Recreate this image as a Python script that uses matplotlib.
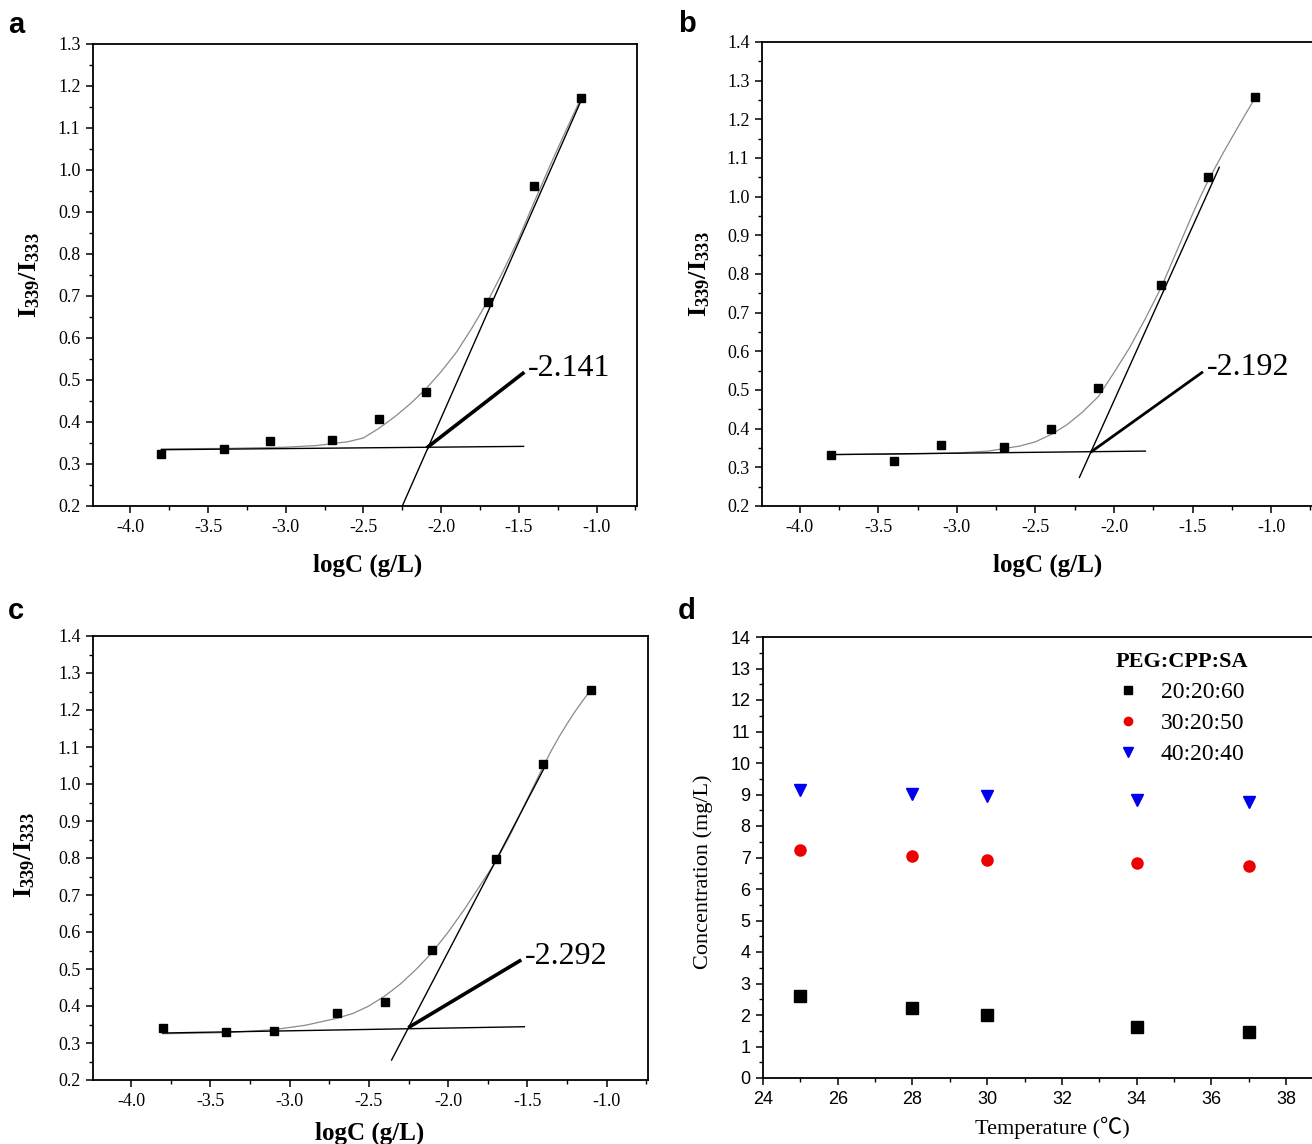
import matplotlib
matplotlib.use('Agg')
import matplotlib.pyplot as plt
from matplotlib.ticker import MultipleLocator, FormatStrFormatter

plt.rcParams['font.family'] = ['Liberation Serif', 'DejaVu Serif']
plt.rcParams['axes.unicode_minus'] = False
plt.rcParams['mathtext.fontset'] = 'custom'
plt.rcParams['mathtext.rm'] = 'Liberation Serif'
plt.rcParams['mathtext.bf'] = 'Liberation Serif:bold'
plt.rcParams['axes.linewidth'] = 1.3

# ---- data ----
log_c = [-3.8, -3.4, -3.1, -2.7, -2.4, -2.1, -1.7, -1.4, -1.1]
ratio_a = [0.324, 0.335, 0.355, 0.358, 0.406, 0.471, 0.685, 0.961, 1.171]
ratio_b = [0.332, 0.317, 0.357, 0.352, 0.398, 0.504, 0.771, 1.050, 1.259]
ratio_c = [0.341, 0.329, 0.332, 0.382, 0.411, 0.551, 0.797, 1.053, 1.255]

# fitted curves (sampled along the drawn fit)
curve_x_a = [-3.8, -3.4, -3.0, -2.8, -2.6, -2.5, -2.4, -2.3, -2.2, -2.1, -2.0,
             -1.9, -1.8, -1.7, -1.6, -1.5, -1.4, -1.3, -1.2, -1.1]
curve_y_a = [0.336, 0.337, 0.340, 0.344, 0.353, 0.362, 0.385, 0.412, 0.443, 0.478,
             0.520, 0.567, 0.625, 0.688, 0.760, 0.838, 0.925, 1.010, 1.092, 1.171]
curve_x_b = [-3.8, -3.4, -3.0, -2.8, -2.6, -2.5, -2.4, -2.3, -2.2, -2.1, -2.0,
             -1.9, -1.8, -1.7, -1.6, -1.5, -1.45, -1.4, -1.35, -1.3, -1.2, -1.1]
curve_y_b = [0.333, 0.334, 0.337, 0.342, 0.355, 0.366, 0.385, 0.410, 0.443, 0.483,
             0.545, 0.610, 0.685, 0.765, 0.860, 0.955, 1.000, 1.042, 1.080, 1.117,
             1.188, 1.257]
curve_x_c = [-3.8, -3.4, -3.1, -2.9, -2.7, -2.6, -2.5, -2.4, -2.3, -2.2, -2.1,
             -2.0, -1.9, -1.8, -1.7, -1.6, -1.5, -1.4, -1.35, -1.3, -1.25, -1.2,
             -1.15, -1.1]
curve_y_c = [0.325, 0.328, 0.336, 0.348, 0.367, 0.380, 0.400, 0.427, 0.460, 0.500,
             0.545, 0.600, 0.660, 0.725, 0.790, 0.870, 0.960, 1.048, 1.090, 1.128,
             1.163, 1.196, 1.226, 1.255]

# baseline, steep tangent and CMC pointer (end points)
base_a = ([-3.8, -1.47], [0.334, 0.342])
steep_a = ([-2.25, -1.093], [0.2, 1.171])
mark_a = ([-2.084, -1.474], [0.341, 0.516])
base_b = ([-3.8, -1.80], [0.333, 0.342])
steep_b = ([-2.22, -1.33], [0.274, 1.076])
mark_b = ([-2.142, -1.441], [0.341, 0.545])
base_c = ([-3.8, -1.52], [0.327, 0.344])
steep_c = ([-2.357, -1.385], [0.254, 1.051])
mark_c = ([-2.242, -1.549], [0.344, 0.522])

cmc_labels = ['-2.141', '-2.192', '-2.292']

temps = [25, 28, 30, 34, 37]
conc_20 = [2.60, 2.21, 2.00, 1.62, 1.45]
conc_30 = [7.24, 7.06, 6.92, 6.82, 6.72]
conc_40 = [9.15, 9.03, 8.95, 8.82, 8.77]
ratio_names = ['20:20:60', '30:20:50', '40:20:40']

W, H = 1312, 1144
fig = plt.figure(figsize=(W / 100, H / 100), dpi=100)


def px_axes(left, top, right, bottom):
    return fig.add_axes([left / W, 1 - bottom / H, (right - left) / W, (bottom - top) / H])


def style_ticks(ax, size=13):
    ax.tick_params(which='both', direction='out', top=False, right=False,
                   labelsize=size)
    ax.tick_params(which='major', length=5, width=1.1, pad=4)
    ax.tick_params(which='minor', length=3, width=1.0)


def draw_cmc(ax, y, curve, base, steep, mark, label, ytop, mark_lw):
    ax.plot(curve[0], curve[1], color='#8a8a8a', lw=0.9, zorder=2)
    ax.plot(base[0], base[1], color='black', lw=1.0, zorder=3)
    ax.plot(steep[0], steep[1], color='black', lw=1.0, zorder=3)
    ax.plot(mark[0], mark[1], color='black', lw=mark_lw, zorder=3)
    ax.plot(log_c, y, ls='none', marker='s', ms=6, color='black', zorder=4)
    ax.text(mark[0][1] + 0.03, mark[1][1] + 0.012, label, fontsize=23,
            ha='left', va='center')
    ax.set_xlim(-4.24, -0.74)
    ax.set_ylim(0.2, ytop)
    ax.xaxis.set_major_locator(MultipleLocator(0.5))
    ax.xaxis.set_minor_locator(MultipleLocator(0.25))
    ax.yaxis.set_major_locator(MultipleLocator(0.1))
    ax.yaxis.set_minor_locator(MultipleLocator(0.05))
    ax.xaxis.set_major_formatter(FormatStrFormatter('%.1f'))
    ax.yaxis.set_major_formatter(FormatStrFormatter('%.1f'))
    style_ticks(ax)
    ax.set_xlabel('logC (g/L)', fontsize=18, fontweight='bold', va='center')
    ax.set_ylabel(r'$\mathbf{I_{339}/I_{333}}$', fontsize=19, va='center')


ax_a = px_axes(93, 44, 637, 506)
draw_cmc(ax_a, ratio_a, (curve_x_a, curve_y_a), base_a, steep_a, mark_a,
         cmc_labels[0], 1.3, 2.6)
ax_a.xaxis.set_label_coords(0.504, -0.128)
ax_a.yaxis.set_label_coords(-0.116, 0.5)

ax_b = px_axes(762, 42, 1312, 506)
draw_cmc(ax_b, ratio_b, (curve_x_b, curve_y_b), base_b, steep_b, mark_b,
         cmc_labels[1], 1.4, 2.0)
ax_b.spines['right'].set_visible(False)
ax_b.xaxis.set_label_coords(0.52, -0.127)
ax_b.yaxis.set_label_coords(-0.113, 0.5)

ax_c = px_axes(93, 636, 648, 1080)
draw_cmc(ax_c, ratio_c, (curve_x_c, curve_y_c), base_c, steep_c, mark_c,
         cmc_labels[2], 1.4, 2.6)
ax_c.xaxis.set_label_coords(0.499, -0.119)
ax_c.yaxis.set_label_coords(-0.1225, 0.507)

# ---- panel d ----
ax_d = px_axes(763, 637, 1312, 1078)
ax_d.plot(temps, conc_20, ls='none', marker='s', ms=8, color='black', label=ratio_names[0])
ax_d.plot(temps, conc_30, ls='none', marker='o', ms=8, color='#ee0000', label=ratio_names[1])
ax_d.plot(temps, conc_40, ls='none', marker='v', ms=9, color='#0000ee', label=ratio_names[2])
ax_d.set_xlim(24, 38.69)
ax_d.set_ylim(0, 14)
ax_d.xaxis.set_major_locator(MultipleLocator(2))
ax_d.xaxis.set_minor_locator(MultipleLocator(1))
ax_d.yaxis.set_major_locator(MultipleLocator(1))
ax_d.yaxis.set_minor_locator(MultipleLocator(0.5))
style_ticks(ax_d, size=13)
for lab in ax_d.get_xticklabels() + ax_d.get_yticklabels():
    lab.set_family(['Liberation Sans Narrow', 'Liberation Sans'])
ax_d.spines['right'].set_visible(False)
ax_d.set_xlabel('Temperature (℃)', fontsize=16, va='center',
                family=['Liberation Serif', 'Noto Sans CJK SC'])
ax_d.set_ylabel('Concentration (mg/L)', fontsize=16, va='center')
ax_d.xaxis.set_label_coords(0.528, -0.113)
ax_d.yaxis.set_label_coords(-0.109, 0.467)
leg = ax_d.legend(loc='upper left', bbox_to_anchor=(0.613, 1.003), frameon=False,
                  title='PEG:CPP:SA', fontsize=17, handletextpad=0.9,
                  labelspacing=0.4, borderpad=0.2, handlelength=1.0,
                  markerscale=0.75)
leg.get_title().set_fontweight('bold')
leg.get_title().set_fontsize(16)
leg._legend_box.align = 'left'

# panel letters
for letter, x, y in [('a', 8, 25), ('b', 678, 24), ('c', 8, 611), ('d', 678, 611)]:
    fig.text(x / W, 1 - y / H, letter, fontsize=21, fontweight='bold',
             family='Liberation Sans', ha='left', va='center')

fig.savefig('out.png', dpi=100)
